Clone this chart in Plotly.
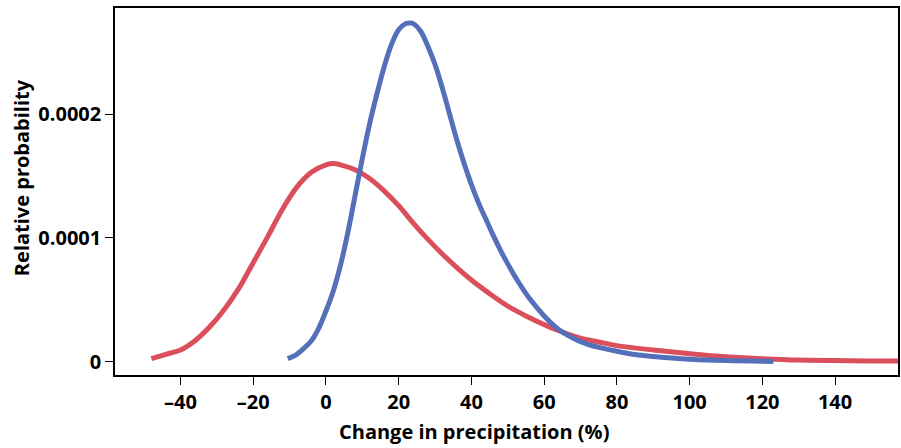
import plotly.graph_objects as go

# Projected change in precipitation (%) and relative probability for two distributions
red_x = [-48, -44, -40, -36, -32, -28, -24, -20, -16, -12, -8, -4, 0, 2, 4, 8, 12, 16,
         20, 24, 28, 32, 36, 40, 45, 50, 55, 60, 65, 70, 75, 80, 90, 100, 110, 120,
         130, 140, 150, 158]
red_y = [0.0000025, 0.000006, 0.0000095, 0.000017, 0.000028, 0.000042, 0.000059,
         0.000080, 0.000101, 0.000123, 0.000141, 0.000153, 0.000159, 0.000160,
         0.000159, 0.000155, 0.000148, 0.000138, 0.000126, 0.000112, 0.000099,
         0.000087, 0.000076, 0.000066, 0.000055, 0.000045, 0.000037, 0.000030,
         0.000024, 0.000019, 0.000016, 0.000013, 0.0000095, 0.0000065, 0.000004,
         0.0000025, 0.0000014, 0.000001, 0.0000007, 0.0000006]

blue_x = [-10.5, -8, -6, -4, -2, 0, 2, 4, 6, 8, 10, 12, 14, 16, 18, 20, 22, 23, 24,
          26, 28, 30, 32, 34, 36, 38, 40, 42, 44, 46, 48, 50, 53, 56, 60, 64, 68,
          72, 76, 80, 85, 90, 95, 100, 110, 123]
blue_y = [0.0000025, 0.000006, 0.000011, 0.000017, 0.000027, 0.000041, 0.000057,
          0.000078, 0.000104, 0.000134, 0.000164, 0.000192, 0.000216, 0.000238,
          0.000256, 0.000268, 0.000273, 0.0002735, 0.000273, 0.000267, 0.000255,
          0.000240, 0.000221, 0.000200, 0.000179, 0.000160, 0.000143, 0.000128,
          0.000115, 0.000102, 0.000090, 0.000079, 0.000064, 0.000051, 0.000037,
          0.000026, 0.000019, 0.000014, 0.000011, 0.0000085, 0.0000058, 0.0000042,
          0.000003, 0.0000021, 0.000001, 0.0000003]

x_ticks = [-40, -20, 0, 20, 40, 60, 80, 100, 120, 140]
x_tick_labels = ["–40", "–20", "0", "20", "40", "60", "80", "100", "120", "140"]
y_ticks = [0, 0.0001, 0.0002]
y_tick_labels = ["0", "0.0001", "0.0002"]

RED = "#DB4F5D"
BLUE = "#5570BB"
FONT = "Open Sans"
FONT_SIZE = 20

fig = go.Figure()
fig.add_trace(go.Scatter(x=red_x, y=red_y, mode="lines",
                         line=dict(color=RED, width=5, shape="spline", smoothing=1.0),
                         showlegend=False, hoverinfo="skip"))
fig.add_trace(go.Scatter(x=blue_x, y=blue_y, mode="lines",
                         line=dict(color=BLUE, width=5, shape="spline", smoothing=1.0),
                         showlegend=False, hoverinfo="skip"))

axis_common = dict(
    showline=True, mirror=True, linecolor="black", linewidth=1.5,
    ticks="outside", ticklen=8, tickwidth=1.2, tickcolor="black",
    showgrid=False, zeroline=False,
    tickfont=dict(family=FONT, size=FONT_SIZE, color="black", weight="bold"),
)

fig.update_xaxes(range=[-58.0, 157.3], tickvals=x_ticks, ticktext=x_tick_labels,
                 **axis_common)
fig.update_yaxes(range=[-0.0000107, 0.0002856], tickvals=y_ticks,
                 ticktext=y_tick_labels, **axis_common)

fig.add_annotation(text="Change in precipitation (%)", xref="paper", yref="paper",
                   x=0.458, y=-0.155, showarrow=False, xanchor="center",
                   yanchor="middle",
                   font=dict(family=FONT, size=FONT_SIZE, color="black", weight="bold"))
fig.add_annotation(text="Relative probability", xref="paper", yref="paper",
                   x=-0.1185, y=0.537, showarrow=False, textangle=-90,
                   xanchor="center", yanchor="middle",
                   font=dict(family=FONT, size=FONT_SIZE, color="black", weight="bold"))

fig.update_layout(
    width=901, height=448,
    margin=dict(l=115, r=1, t=8, b=73),
    paper_bgcolor="white", plot_bgcolor="white",
)

fig.write_html("out.html")
